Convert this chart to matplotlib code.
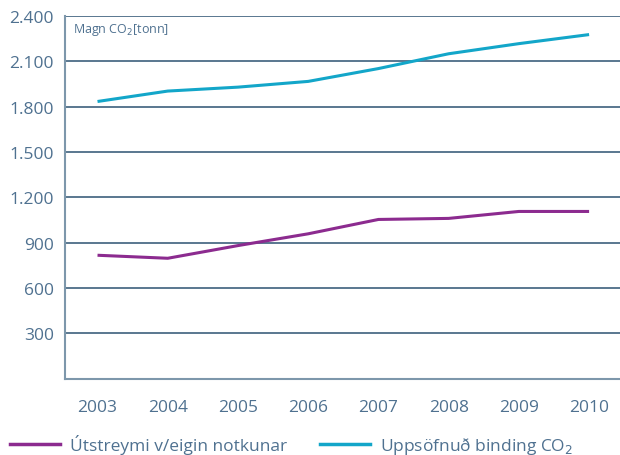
import matplotlib
matplotlib.use("Agg")
import matplotlib.pyplot as plt
from matplotlib.lines import Line2D

years = ["2003", "2004", "2005", "2006", "2007", "2008", "2009", "2010"]
utstreymi = [816, 796, 880, 958, 1053, 1060, 1106, 1106]
binding = [1834, 1903, 1929, 1967, 2052, 2150, 2217, 2277]
yticks = [300, 600, 900, 1200, 1500, 1800, 2100, 2400]
series_names = ["Útstreymi v/eigin notkunar", "Uppsöfnuð binding CO$_2$"]

purple = "#8c2b8f"
blue = "#13a6c9"
grid_c = "#2c5272"
spine_c = "#7d97ab"
text_c = "#4f7190"

plt.rcParams['font.family'] = ['Open Sans', 'DejaVu Sans']

fig = plt.figure(figsize=(6.2, 4.56), dpi=100)
ax = fig.add_axes([65/620, 76.5/456, 555/620, 362.5/456])

x = list(range(len(years)))
ax.plot(x, utstreymi, color=purple, lw=2.2, solid_capstyle='butt')
ax.plot(x, binding, color=blue, lw=2.2, solid_capstyle='butt')

ax.set_xlim(-0.463, 7.44)
ax.set_ylim(0, 2400)
ax.set_yticks(yticks)
ax.set_yticklabels([f"{v:,}".replace(",", ".") for v in yticks])
ax.set_xticks(x)
ax.set_xticklabels(years)
ax.yaxis.grid(True, color=grid_c, lw=1.1)
ax.set_axisbelow(True)
ax.tick_params(axis='both', length=0, labelsize=12.5, colors=text_c)
ax.tick_params(axis='y', pad=8)
ax.tick_params(axis='x', pad=15)
for s in ['top', 'right']:
    ax.spines[s].set_visible(False)
for s in ['left', 'bottom']:
    ax.spines[s].set_color(spine_c)
    ax.spines[s].set_linewidth(1.5)

ax.text(8/555, 1 - 13/362.5, "Magn CO$_2$[tonn]", transform=ax.transAxes,
        fontsize=9, color=text_c, va='center', ha='left')

handles = [Line2D([], [], color=purple, lw=2.5), Line2D([], [], color=blue, lw=2.5)]
fig.legend(handles, series_names, loc='center left', bbox_to_anchor=(10/620, 1 - 446/456),
           ncol=2, frameon=False, fontsize=12.5, handlelength=2.9, columnspacing=1.9,
           handletextpad=0.55, borderaxespad=0, borderpad=0, labelcolor=text_c)

fig.savefig("out.png", dpi=100)
